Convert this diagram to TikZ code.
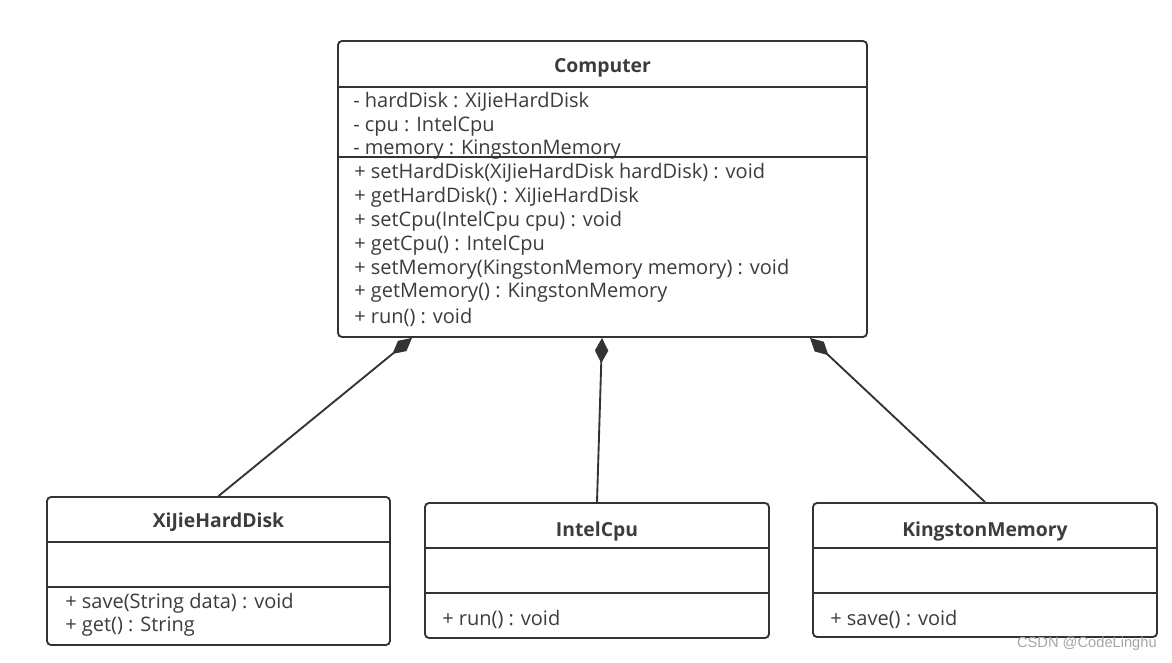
\documentclass[tikz,border=0pt]{standalone}
\usepackage{fontspec}
\setmainfont{Open Sans}
\newfontfamily\markfont{Liberation Sans}
\usetikzlibrary{positioning}
\usetikzlibrary{arrows.meta}
\usetikzlibrary{calc}
\definecolor{umlline}{HTML}{333333}
\definecolor{umltext}{HTML}{3C3C3C}
\def\pxu{0.75pt}
\def\classFont{\fontsize{15}{17}\selectfont}
\tikzset{% UML class diagram styles
  class/.style    = {draw=umlline, line width=1.4pt, rectangle, rounded corners=3pt,
    inner sep=0, fill=white},
  title/.style    = {font=\fontsize{14.5}{17}\selectfont\bfseries, text=umltext, inner sep=0,
    yshift=-2pt},
  member/.style   = {anchor=west, font=\classFont, text=umltext, inner sep=0, yshift=-1.5pt},
  divider/.style  = {draw=umlline, line width=1.4pt},
  compose/.style  = {draw=umlline, line width=1.4pt,
    {Diamond[length=19pt, width=10pt]}-},
}

\begin{document}
\begin{tikzpicture}[x=0.75pt, y=-0.75pt]
  \useasboundingbox (0,0) rectangle (1172,663);

  % Computer
  \node[class, minimum width=529*\pxu, minimum height=296*\pxu] at (602.5,189) (C) {};
  \node[title] at (602.5,65) (CTitle) {Computer};
  \draw[divider] (C.west |- 0,87) -- (C.east |- 0,87);
  \node[member] at (353,100) (CA1) {- hardDisk : XiJieHardDisk};
  \node[member] at (353,124) (CA2) {- cpu : IntelCpu};
  \node[member] at (353,148) (CA3) {- memory : KingstonMemory};
  \draw[divider] (C.west |- 0,157) -- (C.east |- 0,157);
  \node[member] at (354,171) (CM1) {+ setHardDisk(XiJieHardDisk hardDisk) : void};
  \node[member] at (354,195) (CM2) {+ getHardDisk() : XiJieHardDisk};
  \node[member] at (354,219) (CM3) {+ setCpu(IntelCpu cpu) : void};
  \node[member] at (354,243) (CM4) {+ getCpu() : IntelCpu};
  \node[member] at (354,267) (CM5) {+ setMemory(KingstonMemory memory) : void};
  \node[member] at (354,291) (CM6) {+ getMemory() : KingstonMemory};
  \node[member] at (354,315) (CM7) {+ run() : void};

  % XiJieHardDisk
  \node[class, minimum width=343*\pxu, minimum height=148*\pxu] at (218.5,571) (H) {};
  \node[title] at (218.5,520) (HTitle) {XiJieHardDisk};
  \draw[divider] (H.west |- 0,542) -- (H.east |- 0,542);
  \draw[divider] (H.west |- 0,587) -- (H.east |- 0,587);
  \node[member] at (65,601) (HM1) {+ save(String data) : void};
  \node[member] at (65,625) (HM2) {+ get() : String};

  % IntelCpu
  \node[class, minimum width=344*\pxu, minimum height=135*\pxu] at (597,570.5) (I) {};
  \node[title] at (597,529) (ITitle) {IntelCpu};
  \draw[divider] (I.west |- 0,548) -- (I.east |- 0,548);
  \draw[divider] (I.west |- 0,593) -- (I.east |- 0,593);
  \node[member] at (442,617) (IM1) {+ run() : void};

  % KingstonMemory
  \node[class, minimum width=344*\pxu, minimum height=134*\pxu] at (985,570) (K) {};
  \node[title] at (985,529) (KTitle) {KingstonMemory};
  \draw[divider] (K.west |- 0,548) -- (K.east |- 0,548);
  \draw[divider] (K.west |- 0,593) -- (K.east |- 0,593);
  \node[member] at (830,617) (KM1) {+ save() : void};

  % composition
  \coordinate (CtoH) at ($(C.south)+(-190.5,0)$);
  \coordinate (CtoI) at ($(C.south)+(-0.5,0)$);
  \coordinate (CtoK) at ($(C.south)+(207.5,0)$);
  \draw[compose] (CtoH) -- (H.north);
  \draw[compose] (CtoI) -- (I.north);
  \draw[compose] (CtoK) -- (K.north);

  \node[anchor=east, inner sep=0, font=\markfont\fontsize{11}{13}\selectfont, text=black!35]
    at (1157,644) (mark) {CSDN @CodeLinghu};
\end{tikzpicture}
\end{document}
